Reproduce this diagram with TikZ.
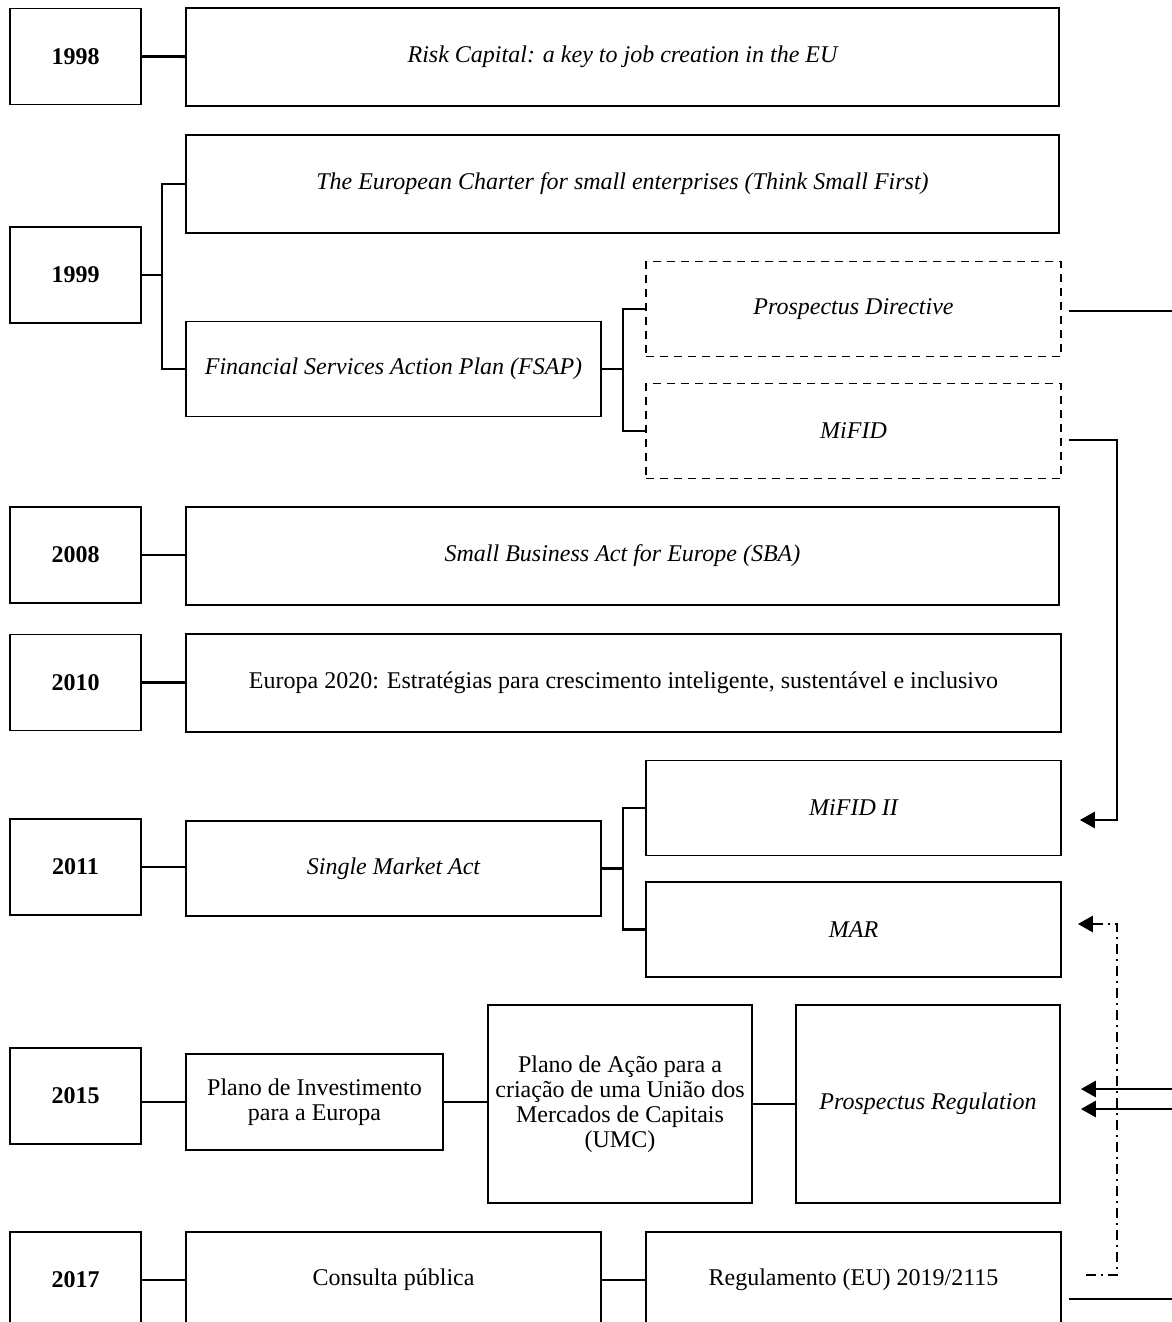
\documentclass[tikz,border=0pt]{standalone}
\usepackage{fontspec}
\setmainfont{Liberation Serif}
\usetikzlibrary{arrows.meta}

\begin{document}
\begin{tikzpicture}[x=0.5pt, y=-0.5pt,
    box/.style={draw, line width=0.85pt, inner sep=2pt, align=center, font=\fontsize{12}{12.5}\selectfont},
    it box/.style={box, font=\fontsize{12}{12.5}\selectfont\itshape},
    year node/.style={box, minimum width=65.5pt, minimum height=48pt, font=\fontsize{12}{12.5}\selectfont\bfseries},
    wide node/.style={minimum width=436.5pt, minimum height=49pt},
    half node/.style={minimum width=207.5pt, minimum height=47.5pt},
    tall node/.style={minimum width=132pt, minimum height=99pt},
    dashed box/.style={dash pattern=on 4pt off 3pt},
    link/.style={line width=1.4pt},
    arr/.style={link, -{Triangle[length=7.5pt, width=8pt]}},
    dashdot/.style={dash pattern=on 5pt off 2.5pt on 1pt off 2.5pt}]

    \useasboundingbox (0,0) rectangle (1172,1322);
    \clip (0,0) rectangle (1172,1322);

    % 1998
    \node[year node] (Y98) at (75.5,56.5) {1998};
    \node[it box, wide node] (RC) at (622.5,57) {Risk Capital: a key to job creation in the EU};
    \draw[link] (Y98) -- (RC);

    % 1999
    \node[year node] (Y99) at (75.5,275) {1999};
    \node[it box, wide node] (CH) at (622.5,184) {The European Charter for small enterprises (Think Small First)};
    \node[it box, half node] (FSAP) at (393.5,369) {Financial Services Action Plan (FSAP)};
    \node[it box, half node, dashed box] (PD) at (853.5,309) {Prospectus Directive};
    \node[it box, half node, dashed box] (MF) at (853.5,431) {MiFID};
    \coordinate (J99) at (162,275);
    \coordinate (JFSAP) at (623,369);
    \draw[link] (Y99) -- (J99);
    \draw[link] (CH.west) -| (J99) |- (FSAP.west);
    \draw[link] (FSAP) -- (JFSAP);
    \draw[link] (PD.west) -| (JFSAP) |- (MF.west);

    % 2008
    \node[year node] (Y08) at (75.5,555) {2008};
    \node[it box, wide node] (SBA) at (622.5,556) {Small Business Act for Europe (SBA)};
    \draw[link] (Y08) -- (Y08 -| SBA.west);

    % 2010
    \node[year node] (Y10) at (75.5,682.5) {2010};
    \node[box, wide node, minimum width=437.5pt] (EU) at (623.5,683) {Europa 2020: Estratégias para crescimento inteligente, sustentável e inclusivo};
    \draw[link] (Y10) -- (Y10 -| EU.west);

    % 2011
    \node[year node] (Y11) at (75.5,867) {2011};
    \node[it box, half node] (SMA) at (393.5,868.5) {Single Market Act};
    \node[it box, half node] (MF2) at (853.5,808) {MiFID II};
    \node[it box, half node] (MAR) at (853.5,929.5) {MAR};
    \coordinate (JSMA) at (623,868.5);
    \draw[link] (Y11) -- (Y11 -| SMA.west);
    \draw[link] (SMA) -- (JSMA);
    \draw[link] (MF2.west) -| (JSMA) |- (MAR.west);

    % 2015
    \node[year node] (Y15) at (75.5,1096) {2015};
    \node[box, minimum width=128.5pt, minimum height=48pt] (PI) at (314.5,1102) {Plano de Investimento\\para a Europa};
    \node[box, tall node] (PA) at (620,1104) {Plano de Ação para a\\criação de uma União dos\\Mercados de Capitais\\(UMC)};
    \node[it box, tall node] (PR) at (928,1104) {Prospectus Regulation};
    \draw[link] (Y15.east |- PI.west) -- (PI.west);
    \draw[link] (PI.east) -- (PI.east -| PA.west);
    \draw[link] (PA) -- (PR);

    % 2017
    \node[year node] (Y17) at (75.5,1280) {2017};
    \node[box, half node, minimum height=48pt] (CP) at (393.5,1280) {Consulta pública};
    \node[box, half node, minimum height=48pt] (REG) at (853.5,1280) {Regulamento (EU) 2019/2115};
    \draw[link] (Y17) -- (CP);
    \draw[link] (CP) -- (REG);

    % links on the right
    \coordinate (R) at (1117,0);
    \coordinate (E) at (1172,0);
    \coordinate (PDout) at ([xshift=3.5pt, yshift=-1pt]PD.east);
    \coordinate (MF2in) at ([xshift=9pt, yshift=-6pt]MF2.east);
    \coordinate (MARin) at ([xshift=8pt, yshift=2.75pt]MAR.east);
    \coordinate (PRin1) at ([xshift=10pt, yshift=7.5pt]PR.east);
    \coordinate (PRin2) at ([xshift=10pt, yshift=-2.5pt]PR.east);
    \coordinate (REGout) at ([xshift=3.5pt, yshift=-9.5pt]REG.east);
    \draw[link] (PDout) -- (E |- PDout);
    \draw[arr] ([xshift=3.5pt, yshift=-4.5pt]MF.east) -| (R |- MF2in) -- (MF2in);
    \draw[arr] (E |- PRin1) -- (PRin1);
    \draw[arr] (E |- PRin2) -- (PRin2);
    \draw[arr, dashdot] ([xshift=12pt, yshift=2.5pt]REG.east) -| (R |- MARin) -- (MARin);
    \draw[link] (REGout) -- (E |- REGout);

\end{tikzpicture}
\end{document}
